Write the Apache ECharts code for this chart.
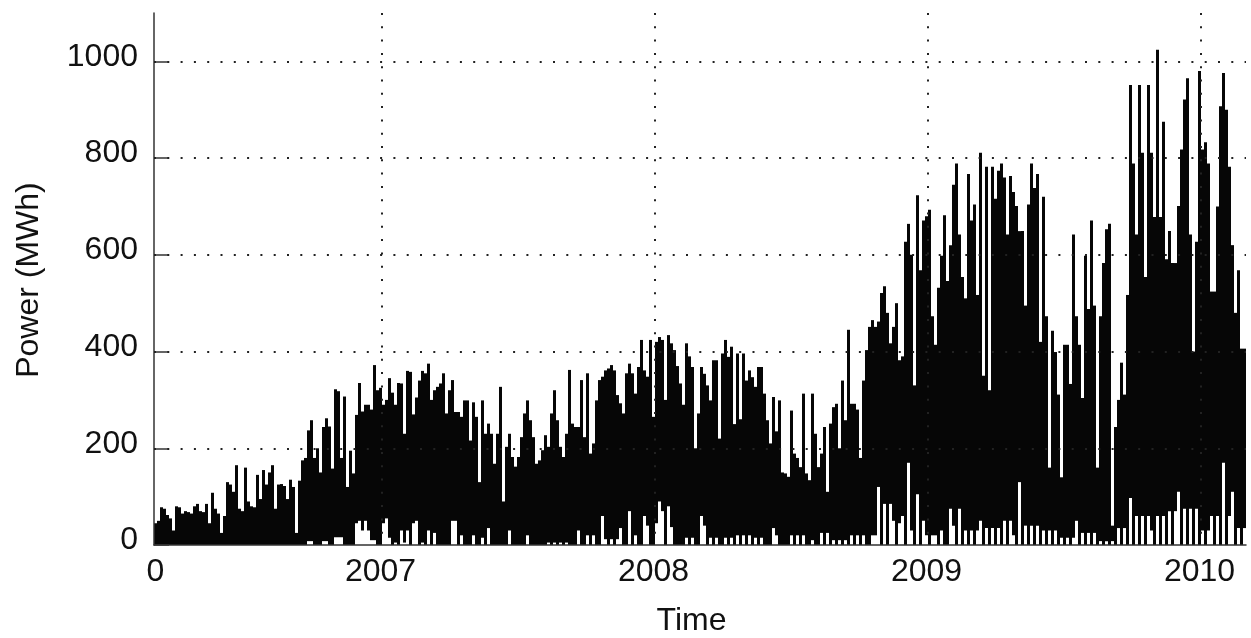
<!DOCTYPE html>
<html>
<head>
<meta charset="utf-8">
<script src="https://cdn.jsdelivr.net/npm/echarts@6/dist/echarts.min.js"></script>
<style>
html,body{margin:0;padding:0;background:#fff;}
#chart{width:1251px;height:638px;}
</style>
</head>
<body>
<div id="chart"></div>
<script>
// Each entry is one ~4-day period (one 3px column of the original plot):
// hi = highest power reached in the period, lo = lowest power in the period (MWh)
const hi = [
  45, 50, 78, 75, 62, 55, 30, 80, 78, 65,
  70, 68, 65, 80, 85, 70, 68, 85, 45, 108,
  75, 65, 25, 60, 130, 125, 110, 165, 75, 70,
  160, 90, 80, 78, 145, 95, 155, 125, 150, 165,
  75, 125, 126, 122, 95, 135, 120, 25, 133, 175,
  180, 237, 258, 180, 200, 150, 244, 262, 245, 158,
  322, 318, 180, 307, 120, 195, 148, 269, 335, 276,
  290, 290, 280, 372, 320, 325, 290, 300, 345, 315,
  290, 335, 334, 230, 360, 358, 270, 305, 340, 360,
  355, 375, 300, 320, 327, 334, 355, 272, 320, 341,
  275, 275, 265, 299, 299, 216, 295, 265, 130, 299,
  230, 251, 230, 168, 230, 327, 90, 203, 230, 182,
  162, 182, 223, 272, 299, 258, 223, 168, 175, 196,
  227, 203, 272, 320, 258, 203, 182, 230, 362, 251,
  244, 244, 341, 223, 355, 189, 210, 299, 341, 348,
  361, 365, 372, 361, 310, 293, 272, 355, 375, 355,
  313, 368, 424, 361, 348, 424, 265, 420, 430,
  424, 300, 434, 417, 403, 370, 334, 290, 417, 390, 368,
  200, 272, 368, 354, 330, 299, 382, 382, 220, 396,
  424, 389, 410, 250, 396, 260, 396, 340, 361, 347,
  327, 368, 368, 313, 258, 210, 306, 235, 299, 150,
  148, 141, 278, 189, 180, 161, 313, 148, 134, 313,
  230, 161, 189, 244, 110, 251, 285, 292, 200, 340,
  258, 445, 292, 292, 280, 180, 340, 403, 451, 465,
  451, 462, 521, 535, 480, 417, 451, 500, 382,
  390, 627, 664, 600, 330, 723, 568, 671, 680, 693, 473,
  414, 532, 598, 682, 546, 620, 745, 789, 642, 554,
  510, 767, 671, 704, 517, 811, 350, 782, 320, 782,
  716, 774, 789, 760, 642, 763, 730, 701, 649, 649,
  495, 704, 789, 738, 767, 420, 720, 473, 160, 443,
  399, 311, 140, 414, 414, 333, 642, 473, 414, 304,
  598, 488, 671, 495, 160, 473, 583, 653, 664, 40,
  244, 300, 377, 311, 517, 951, 789, 642, 951, 811,
  554, 951, 811, 678, 1024, 678, 875, 591, 649, 583,
  583, 701, 818, 921, 965, 642, 400, 627, 980, 818,
  833, 789, 524, 524, 700, 907, 976, 900, 782, 620,
  480, 568, 406, 406
];
const lo = [
  0, 0, 0, 0, 0, 0, 0, 0, 0, 0,
  0, 0, 0, 0, 0, 0, 0, 0, 0, 0,
  0, 0, 0, 0, 0, 0, 0, 0, 0, 0,
  0, 0, 0, 0, 0, 0, 0, 0, 0, 0,
  0, 0, 0, 0, 0, 0, 0, 0, 0, 0,
  0, 8, 8, 0, 0, 0, 8, 8, 0, 0,
  16, 16, 16, 0, 0, 0, 0, 45, 50, 30,
  50, 30, 10, 10, 0, 0, 45, 55, 15, 0,
  5, 0, 30, 5, 30, 0, 45, 50, 0, 5,
  0, 30, 0, 25, 0, 0, 0, 0, 0, 50,
  50, 0, 20, 0, 0, 0, 20, 0, 0, 15,
  0, 35, 0, 0, 0, 0, 0, 0, 30, 0,
  0, 0, 0, 0, 20, 0, 0, 0, 0, 0,
  0, 5, 0, 5, 0, 5, 0, 5, 0, 0,
  0, 30, 0, 0, 20, 0, 20, 0, 0, 60,
  12, 0, 12, 0, 12, 35, 0, 0, 70, 0,
  20, 0, 0, 60, 40, 0, 0, 45, 90,
  70, 0, 80, 37, 0, 0, 0, 0, 15, 0, 15,
  0, 0, 60, 40, 0, 15, 0, 15, 0, 0,
  15, 0, 15, 0, 20, 0, 20, 0, 20, 0,
  15, 0, 15, 0, 0, 0, 35, 20, 0, 0,
  0, 0, 20, 0, 20, 0, 20, 0, 0, 10,
  0, 0, 25, 0, 25, 0, 10, 0, 10, 0,
  10, 0, 20, 0, 20, 0, 20, 0, 0, 20,
  20, 120, 0, 85, 0, 85, 50, 0, 45,
  60, 0, 170, 30, 0, 105, 0, 50, 20, 0, 20,
  20, 0, 30, 0, 0, 75, 40, 0, 75, 0,
  30, 0, 30, 0, 30, 50, 0, 35, 0, 35,
  0, 35, 0, 50, 0, 50, 20, 0, 130, 0,
  40, 0, 40, 0, 40, 0, 30, 0, 30, 0,
  30, 0, 15, 0, 15, 0, 15, 50, 0, 25,
  0, 25, 0, 25, 0, 8, 0, 8, 0, 8,
  0, 35, 0, 35, 0, 97, 0, 60, 0, 60,
  0, 60, 30, 0, 60, 0, 60, 0, 70, 0,
  70, 110, 0, 75, 0, 75, 0, 75, 0, 30,
  0, 30, 60, 0, 60, 0, 170, 0, 60, 110,
  0, 35, 0, 35
];
// Period index at which each new year starts, and the year labels
const yearStartIdx = [76, 167, 258, 349];
const yearLabels = ['2007', '2008', '2009', '2010'];
const originLabel = '0';
const yTickValues = [0, 200, 400, 600, 800, 1000];
const yGridValues = [200, 400, 600, 800, 1000];
const xTitle = 'Time';
const yTitle = 'Power (MWh)';

const categories = hi.map((_, i) => String(i));
const span = hi.map((v, i) => Math.max(0, v - lo[i]));
// labels are centred on the year boundary (last period of the previous year)
const labelIdx = [0].concat(yearStartIdx.map(i => i - 1));
const labelText = [originLabel].concat(yearLabels);

const FONT = '"Liberation Sans", Arial, Helvetica, sans-serif';
const TXT = '#111';
const dotted = { type: [2, 11.3], width: 2, color: '#222' };

const chart = echarts.init(document.getElementById('chart'), null, { renderer: 'canvas' });
chart.setOption({
  animation: false,
  backgroundColor: '#fff',
  grid: { left: 154, right: 5, top: 13, bottom: 93, containLabel: false },
  xAxis: {
    type: 'category',
    data: categories,
    boundaryGap: true,
    z: 3,
    axisLine: { show: true, lineStyle: { color: '#333', width: 1.5 } },
    axisTick: { show: false },
    axisLabel: {
      interval: (i) => labelIdx.indexOf(i) >= 0,
      formatter: (v, i) => labelText[labelIdx.indexOf(i)],
      fontFamily: FONT, fontSize: 32, lineHeight: 32, color: TXT, margin: 11
    },
    splitLine: {
      show: true,
      interval: (i) => yearStartIdx.indexOf(i) >= 0,
      showMinLine: true,
      showMaxLine: false,
      lineStyle: dotted
    }
  },
  yAxis: {
    type: 'value',
    min: 0,
    max: 1100,
    z: 3,
    axisLine: { show: true, lineStyle: { color: '#333', width: 1.5 } },
    axisTick: { show: true, inside: true, length: 15, customValues: yTickValues, lineStyle: { color: '#333', width: 1.5 } },
    axisLabel: {
      customValues: yTickValues,
      formatter: (v) => String(v),
      fontFamily: FONT, fontSize: 32, lineHeight: 9, verticalAlign: 'bottom',
      color: TXT, margin: 16
    },
    splitLine: { show: false }
  },
  graphic: [
    { type: 'text', x: 29, y: 280, rotation: Math.PI / 2, silent: true,
      style: { text: yTitle, fontFamily: FONT, fontSize: 32, fill: TXT, align: 'center', verticalAlign: 'middle' } },
    { type: 'text', x: 691.5, y: 621, silent: true,
      style: { text: xTitle, fontFamily: FONT, fontSize: 32, fill: TXT, align: 'center', verticalAlign: 'middle' } }
  ],
  series: [
    {
      type: 'bar', stack: 'range', data: lo, silent: true,
      barCategoryGap: '0%', itemStyle: { color: 'rgba(0,0,0,0)' },
      emphasis: { disabled: true },
      markLine: {
        silent: true, symbol: 'none', animation: false,
        label: { show: false },
        lineStyle: dotted,
        data: yGridValues.map(v => ({ yAxis: v }))
      },
      z: 1
    },
    {
      type: 'bar', stack: 'range', data: span, silent: true,
      barCategoryGap: '0%', itemStyle: { color: '#060606' },
      emphasis: { disabled: true },
      z: 2
    }
  ]
});
</script>
</body>
</html>
